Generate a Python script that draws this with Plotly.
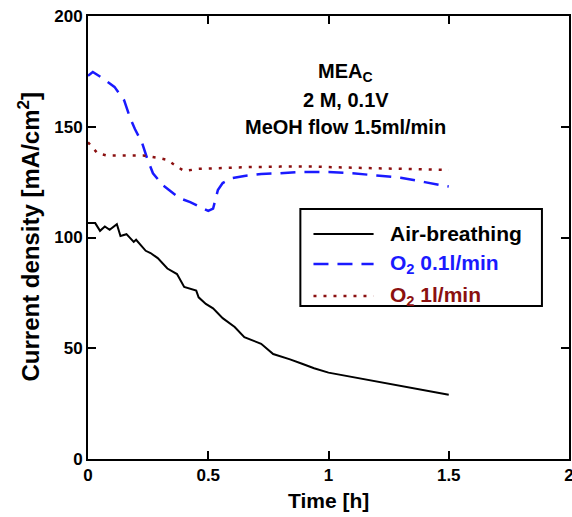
import plotly.graph_objects as go

# ---- data ----
t_air = [0, 0.03, 0.05, 0.07, 0.09, 0.12, 0.135, 0.16, 0.19, 0.2, 0.24, 0.26, 0.29, 0.33, 0.37,
         0.40, 0.45, 0.46, 0.49, 0.52, 0.56, 0.61, 0.65, 0.72, 0.77, 0.8, 0.84, 0.89, 0.94, 1.0,
         1.1, 1.2, 1.3, 1.4, 1.5]
j_air = [106.5, 106.5, 103, 105, 103.5, 106, 100.7, 101.5, 98, 99, 94, 93, 90.7, 86, 83.5,
         77.7, 76, 73, 70, 68, 63.6, 59.6, 55, 52, 47.4, 46.5, 45, 43, 41, 39,
         37, 35, 33, 31, 29]

t_o2_low = [0, 0.02, 0.06, 0.11, 0.15, 0.175, 0.195, 0.225, 0.245, 0.27, 0.31, 0.35, 0.38, 0.425,
            0.47, 0.5, 0.52, 0.54, 0.56, 0.6, 0.65, 0.72, 0.8, 0.88, 1.0, 1.1, 1.2, 1.3, 1.4, 1.5]
j_o2_low = [173, 174.7, 172, 168, 162, 154, 149, 142.7, 136, 129, 123.7, 120.5, 117.8, 116,
            113.8, 112, 113, 121.4, 124.6, 126.8, 127.8, 128.7, 129, 129.6, 129.6, 129, 128, 127, 125, 123]

t_o2_high = [0, 0.04, 0.08, 0.15, 0.23, 0.29, 0.33, 0.37, 0.4, 0.46, 0.55, 0.67, 0.8, 0.94,
             1.1, 1.3, 1.5]
j_o2_high = [143, 138, 137, 137, 137, 136, 135, 132, 130, 131, 131.4, 131.8, 132, 132,
             131.5, 131, 130.5]

x_ticks = [0, 0.5, 1, 1.5, 2]
x_tick_labels = ["0", "0.5", "1", "1.5", "2"]
y_ticks = [0, 50, 100, 150, 200]
y_tick_labels = ["0", "50", "100", "150", "200"]

series_names = ["Air-breathing", "O<sub>2</sub> 0.1l/min", "O<sub>2</sub> 1l/min"]
series_colors = ["#000000", "#1a1aff", "#8b1010"]
series_dash = ["solid", "15px,9px", "3px,7px"]
series_width = [2, 2.5, 2.5]

FONT = "Liberation Sans, Arial, Helvetica, sans-serif"

fig = go.Figure()
for t, j, name, c, d, w in zip([t_air, t_o2_low, t_o2_high], [j_air, j_o2_low, j_o2_high],
                               series_names, series_colors, series_dash, series_width):
    fig.add_trace(go.Scatter(x=t, y=j, mode="lines", name=name,
                             line=dict(color=c, dash=d, width=w), showlegend=False))

axis_common = dict(showline=True, linecolor="black", linewidth=2, mirror="ticks",
                   ticks="inside", ticklen=8, tickwidth=2, tickcolor="black",
                   showgrid=False, zeroline=False, automargin=False,
                   ticklabeloverflow="allow",
                   tickfont=dict(family=FONT, size=17, color="black"))

fig.update_xaxes(range=[0, 2], tickvals=x_ticks,
                 ticktext=["<b>%s</b>" % s for s in x_tick_labels], **axis_common)
fig.update_yaxes(range=[0, 200], tickvals=y_ticks,
                 ticktext=["<b>%s</b>" % s for s in y_tick_labels], **axis_common)

# legend box (manual)
fig.add_shape(type="rect", xref="x", yref="y", x0=0.883, x1=1.8875, y0=69.1, y1=112.9,
              line=dict(color="black", width=2), fillcolor="white", layer="above")
leg_y = [101.6, 88.0, 73.6]
for name, c, d, w, yy in zip(series_names, series_colors, series_dash, series_width, leg_y):
    fig.add_shape(type="line", xref="x", yref="y", x0=0.9375, x1=1.1875, y0=yy, y1=yy,
                  line=dict(color=c, dash=d, width=w), layer="above")
    fig.add_annotation(x=1.246, y=yy, xref="x", yref="y", text="<b>%s</b>" % name,
                       showarrow=False, xanchor="left", yanchor="middle",
                       font=dict(family=FONT, size=21, color=c))

# condition text
for txt, yy in zip(["MEA<sub>C</sub>", "2 M, 0.1V", "MeOH flow 1.5ml/min"], [174.7, 162.1, 149.9]):
    fig.add_annotation(x=1.071, y=yy, xref="x", yref="y", text="<b>%s</b>" % txt,
                       showarrow=False, xanchor="center", yanchor="middle",
                       font=dict(family=FONT, size=20, color="black"))

# axis titles
fig.add_annotation(x=0.5, y=-0.0948, xref="paper", yref="paper", text="<b>Time [h]</b>",
                   showarrow=False, xanchor="center", yanchor="middle",
                   font=dict(family=FONT, size=21, color="black"))
fig.add_annotation(x=-0.1247, y=0.5, xref="paper", yref="paper",
                   text="<b>Current density [mA/cm<sup>2</sup>]</b>", textangle=-90,
                   showarrow=False, xanchor="center", yanchor="middle",
                   font=dict(family=FONT, size=24, color="black"))

fig.update_layout(width=572, height=517, margin=dict(l=88, r=3, t=16, b=58),
                  paper_bgcolor="white", plot_bgcolor="white",
                  font=dict(family=FONT, color="black"))

fig.write_html("out.html", config={"displayModeBar": False},
               post_script="document.body.style.margin='0';document.body.style.overflow='hidden';")
